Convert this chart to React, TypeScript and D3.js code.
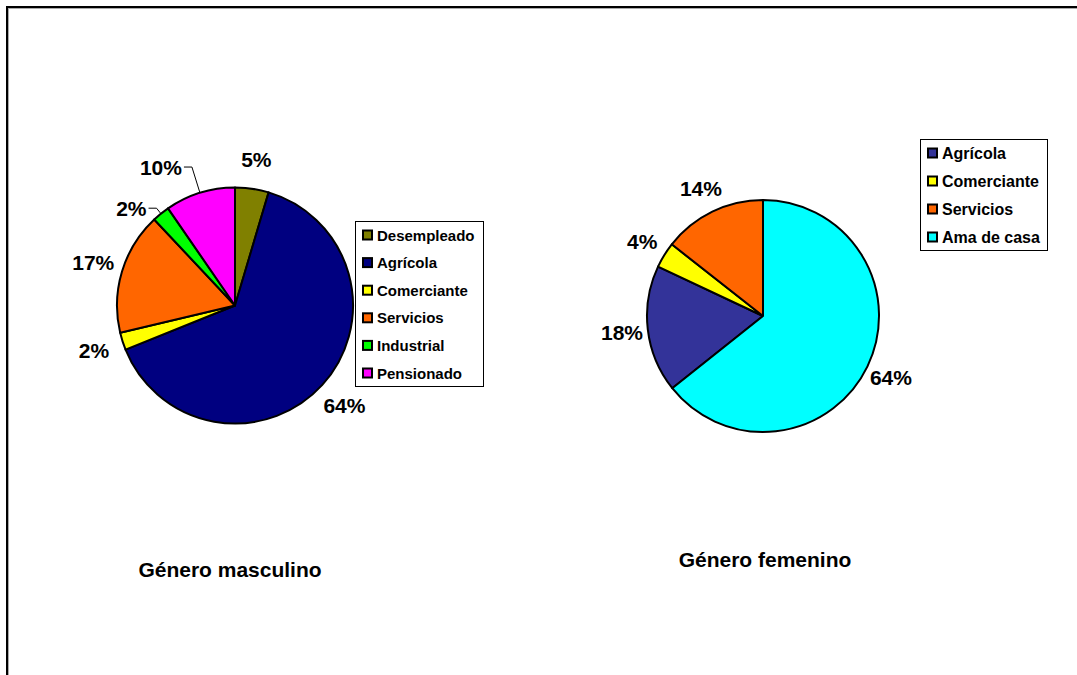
import React from 'react';
import * as d3 from 'd3';

// Género masculino
const maleCategories = ['Desempleado', 'Agrícola', 'Comerciante', 'Servicios', 'Industrial', 'Pensionado'];
const maleValues = [4.6, 64.3, 2.4, 16.7, 2.4, 9.6];
const maleColors = ['#808000', '#000080', '#FFFF00', '#FF6600', '#00FF00', '#FF00FF'];

// Género femenino
const femaleCategories = ['Agrícola', 'Comerciante', 'Servicios', 'Ama de casa'];
const femaleValues = [17.7, 3.6, 14.4, 64.3];
const femaleColors = ['#333399', '#FFFF00', '#FF6600', '#00FFFF'];

const FONT = '"Liberation Sans", Arial, sans-serif';

interface Slice {
  label: string;
  value: number;
  color: string;
}

interface PieProps {
  slices: Slice[];
  cx: number;
  cy: number;
  r: number;
  startAngle: number;
  labelPad: number;
  leaders?: Record<number, number>; // slice index -> elbow radius
}

const Pie: React.FC<PieProps> = ({ slices, cx, cy, r, startAngle, labelPad, leaders = {} }) => {
  const total = d3.sum(slices, d => d.value);
  const pie = d3.pie<Slice>()
    .sort(null)
    .value(d => d.value)
    .startAngle(startAngle)
    .endAngle(startAngle + 2 * Math.PI);
  const arc = d3.arc<d3.PieArcDatum<Slice>>().innerRadius(0).outerRadius(r);
  const arcs = pie(slices);
  const polar = (a: number, rad: number): [number, number] => [Math.sin(a) * rad, -Math.cos(a) * rad];

  return (
    <g transform={`translate(${cx},${cy})`}>
      {arcs.map((a, i) => (
        <path key={i} d={arc(a) || ''} fill={a.data.color} stroke="#000" strokeWidth={2} strokeLinejoin="round" />
      ))}
      {arcs.map((a, i) => {
        const mid = (a.startAngle + a.endAngle) / 2;
        const text = `${Math.round((a.data.value / total) * 100)}%`;
        const elbowR = leaders[i];
        if (elbowR) {
          const [x0, y0] = polar(mid, r);
          const [x1, y1] = polar(mid, elbowR);
          return (
            <g key={i}>
              <polyline points={`${x0},${y0} ${x1},${y1} ${x1 - 8},${y1}`} fill="none" stroke="#000" strokeWidth={1} />
              <text x={x1 - 10} y={y1} textAnchor="end" dominantBaseline="central"
                fontFamily={FONT} fontWeight="bold" fontSize={21}>{text}</text>
            </g>
          );
        }
        const [x, y] = polar(mid, r + labelPad);
        return (
          <text key={i} x={x} y={y} textAnchor="middle" dominantBaseline="central"
            fontFamily={FONT} fontWeight="bold" fontSize={21}>{text}</text>
        );
      })}
    </g>
  );
};

interface LegendProps {
  slices: Slice[];
  x: number;
  y: number;
  w: number;
  h: number;
  step: number;
  fontSize: number;
}

const Legend: React.FC<LegendProps> = ({ slices, x, y, w, h, step, fontSize }) => (
  <g transform={`translate(${x},${y})`}>
    <rect x={0.5} y={0.5} width={w} height={h} fill="#fff" stroke="#000" strokeWidth={1} />
    {slices.map((s, i) => {
      const cy = 14 + i * step;
      return (
        <g key={s.label}>
          <rect x={8} y={cy - 4.5} width={9} height={9} fill={s.color} stroke="#000" strokeWidth={2} />
          <text x={22} y={cy} dominantBaseline="central" fontFamily={FONT} fontWeight="bold" fontSize={fontSize}>
            {s.label}
          </text>
        </g>
      );
    })}
  </g>
);

const App: React.FC = () => {
  const male: Slice[] = maleCategories.map((c, i) => ({ label: c, value: maleValues[i], color: maleColors[i] }));
  const female: Slice[] = femaleCategories.map((c, i) => ({ label: c, value: femaleValues[i], color: femaleColors[i] }));

  // Ama de casa (last) begins at 12 o'clock, so the first slice starts after it
  const femaleStart = 2 * Math.PI * (femaleValues[femaleValues.length - 1] / d3.sum(femaleValues));

  return (
    <svg width={1077} height={675} style={{ position: 'absolute', left: 0, top: 0, background: '#fff' }}>
      <rect x={8.5} y={8.5} width={1100} height={700} fill="none" stroke="#aaa" strokeWidth={1} />
      <rect x={7} y={7} width={1100} height={700} fill="none" stroke="#000" strokeWidth={2} />

      <Pie slices={male} cx={235} cy={305.5} r={118} startAngle={0} labelPad={30} leaders={{ 4: 125, 5: 145 }} />
      <Legend slices={male} x={355} y={221} w={128} h={165} step={27.6} fontSize={15} />
      <text x={230} y={577} textAnchor="middle" fontFamily={FONT} fontWeight="bold" fontSize={21}>Género masculino</text>

      <Pie slices={female} cx={763} cy={316} r={116} startAngle={femaleStart} labelPad={26} />
      <Legend slices={female} x={920} y={139} w={127} h={111} step={28} fontSize={16} />
      <text x={765} y={567} textAnchor="middle" fontFamily={FONT} fontWeight="bold" fontSize={21}>Género femenino</text>
    </svg>
  );
};

export default App;
